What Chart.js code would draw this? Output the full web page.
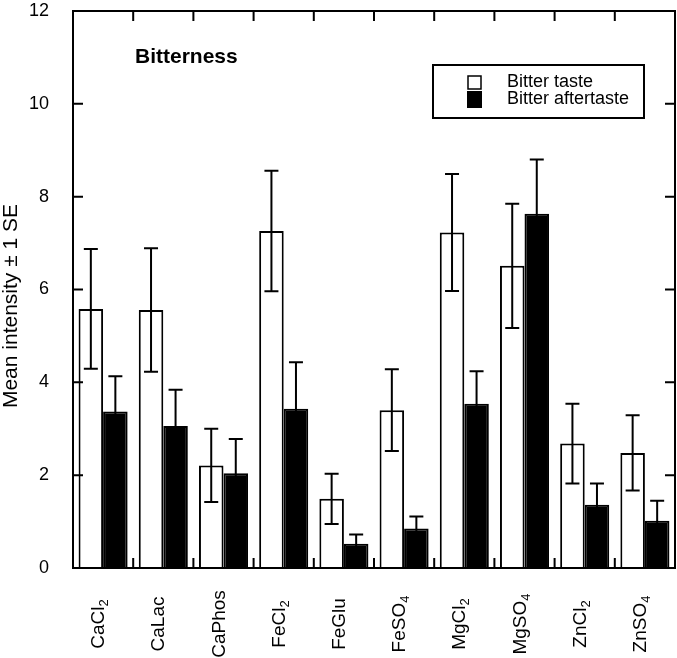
<!DOCTYPE html>
<html>
<head>
<meta charset="utf-8">
<script src="https://cdn.jsdelivr.net/npm/chart.js@4.4.1/dist/chart.umd.min.js"></script>
<style>
  body { margin: 0; background: #fff; }
  #wrap { width: 677px; height: 658px; }
</style>
</head>
<body>
<div id="wrap"><canvas id="bitter-chart" width="677" height="658"></canvas></div>
<script>
// salts on the x axis
const categories = ['CaCl₂', 'CaLac', 'CaPhos', 'FeCl₂', 'FeGlu', 'FeSO₄', 'MgCl₂', 'MgSO₄', 'ZnCl₂', 'ZnSO₄'];
const seriesNames = ['Bitter taste', 'Bitter aftertaste'];

// mean intensity and standard error
const tasteMean = [5.58, 5.56, 2.21, 7.26, 1.49, 3.40, 7.23, 6.51, 2.68, 2.48];
const tasteSE = [1.29, 1.33, 0.79, 1.30, 0.54, 0.88, 1.26, 1.34, 0.86, 0.81];
const afterMean = [3.37, 3.06, 2.04, 3.43, 0.52, 0.85, 3.54, 7.63, 1.36, 1.02];
const afterSE = [0.76, 0.78, 0.74, 1.00, 0.20, 0.26, 0.70, 1.17, 0.46, 0.43];

const yTicks = [0, 2, 4, 6, 8, 10, 12];
const chartTitle = 'Bitterness';
const yTitle = 'Mean intensity ± 1 SE';

const FONT = '"Liberation Sans", Arial, Helvetica, sans-serif';
Chart.defaults.font.family = FONT;
Chart.defaults.color = '#000';

const errors = [tasteSE, afterSE];
const subDigits = { '₂': '2', '₄': '4' };

// splits "CaCl₂" into the main text and a real subscript
function splitLabel(s) {
  let main = '', sub = '';
  for (const ch of s) {
    if (subDigits[ch]) sub += subDigits[ch]; else main += ch;
  }
  return [main, sub];
}

// error bars, frame with inward ticks, labels, title and boxed legend
const extras = {
  id: 'extras',
  afterDatasetsDraw(chart) {
    const ctx = chart.ctx;
    const y = chart.scales.y;
    ctx.save();
    ctx.strokeStyle = '#000';
    ctx.lineWidth = 2;
    chart.data.datasets.forEach(function (ds, i) {
      const meta = chart.getDatasetMeta(i);
      meta.data.forEach(function (bar, j) {
        const v = ds.data[j];
        const se = errors[i][j];
        const top = y.getPixelForValue(v + se);
        const bot = y.getPixelForValue(v - se);
        ctx.beginPath();
        ctx.moveTo(bar.x, top);
        ctx.lineTo(bar.x, bot);
        ctx.moveTo(bar.x - 7, top);
        ctx.lineTo(bar.x + 7, top);
        ctx.moveTo(bar.x - 7, bot);
        ctx.lineTo(bar.x + 7, bot);
        ctx.stroke();
      });
    });
    ctx.restore();
  },
  afterDraw(chart) {
    const ctx = chart.ctx;
    const a = chart.chartArea;
    const x = chart.scales.x;
    const y = chart.scales.y;
    ctx.save();
    ctx.strokeStyle = '#000';
    ctx.lineWidth = 2;
    ctx.strokeRect(a.left, a.top, a.right - a.left, a.bottom - a.top);

    ctx.beginPath();
    for (let i = 1; i < categories.length; i++) {
      const px = (x.getPixelForValue(i - 1) + x.getPixelForValue(i)) / 2;
      ctx.moveTo(px, a.top);
      ctx.lineTo(px, a.top + 10);
      ctx.moveTo(px, a.bottom);
      ctx.lineTo(px, a.bottom - 10);
    }
    yTicks.slice(1, -1).forEach(function (t) {
      const py = y.getPixelForValue(t);
      ctx.moveTo(a.left, py);
      ctx.lineTo(a.left + 10, py);
      ctx.moveTo(a.right, py);
      ctx.lineTo(a.right - 10, py);
    });
    ctx.stroke();

    // category labels, rotated and centred under each group
    ctx.fillStyle = '#000';
    ctx.textBaseline = 'alphabetic';
    ctx.textAlign = 'left';
    categories.forEach(function (lab, i) {
      const parts = splitLabel(lab);
      ctx.font = '19px ' + FONT;
      const wMain = ctx.measureText(parts[0]).width;
      ctx.font = '13px ' + FONT;
      const wSub = parts[1] ? ctx.measureText(parts[1]).width : 0;
      const total = wMain + wSub;
      ctx.save();
      ctx.translate(x.getPixelForValue(i) + 1, a.bottom + 56);
      ctx.rotate(-Math.PI / 2);
      ctx.font = '19px ' + FONT;
      ctx.fillText(parts[0], -total / 2, 0);
      if (parts[1]) {
        ctx.font = '13px ' + FONT;
        ctx.fillText(parts[1], -total / 2 + wMain, 4);
      }
      ctx.restore();
    });

    // title inside the plot
    ctx.font = 'bold 21px ' + FONT;
    ctx.fillText(chartTitle, 135, 63);

    // y axis title
    ctx.save();
    ctx.translate(11, 306);
    ctx.rotate(-Math.PI / 2);
    ctx.font = '21px ' + FONT;
    ctx.textAlign = 'center';
    ctx.textBaseline = 'middle';
    ctx.fillText(yTitle, 0, 0);
    ctx.restore();

    // legend box
    ctx.lineWidth = 2;
    ctx.strokeRect(433, 65, 211, 53);
    ctx.lineWidth = 1.5;
    ctx.fillStyle = '#fff';
    ctx.fillRect(468, 76, 13, 13);
    ctx.strokeRect(468, 76, 13, 13);
    ctx.fillStyle = '#000';
    ctx.fillRect(467, 91, 15, 17);
    ctx.font = '18px ' + FONT;
    ctx.textAlign = 'left';
    ctx.fillText(seriesNames[0], 507, 87);
    ctx.fillText(seriesNames[1], 507, 104);
    ctx.restore();
  }
};

new Chart(document.getElementById('bitter-chart'), {
  type: 'bar',
  data: {
    labels: categories,
    datasets: [
      {
        label: seriesNames[0],
        data: tasteMean,
        backgroundColor: '#fff',
        borderColor: '#000',
        borderWidth: 2,
        categoryPercentage: 0.815,
        barPercentage: 1
      },
      {
        label: seriesNames[1],
        data: afterMean,
        backgroundColor: '#000',
        borderColor: '#000',
        borderWidth: 2,
        categoryPercentage: 0.815,
        barPercentage: 1
      }
    ]
  },
  options: {
    responsive: false,
    animation: false,
    devicePixelRatio: 1,
    layout: { padding: { left: 0, right: 2, top: 11, bottom: 0 } },
    plugins: {
      legend: { display: false },
      tooltip: { enabled: false }
    },
    scales: {
      x: {
        grid: { display: false },
        border: { display: false },
        ticks: { display: false },
        afterFit(scale) {
          scale.height = 90;
          scale.paddingLeft = 0;
          scale.paddingRight = 0;
        }
      },
      y: {
        min: 0,
        max: 12,
        grid: { display: false },
        border: { display: false },
        ticks: {
          stepSize: 2,
          padding: 16,
          font: { size: 18 }
        },
        afterFit(scale) {
          scale.width = 73;
          scale.paddingTop = 0;
          scale.paddingBottom = 0;
        }
      }
    }
  },
  plugins: [extras]
});
</script>
</body>
</html>
